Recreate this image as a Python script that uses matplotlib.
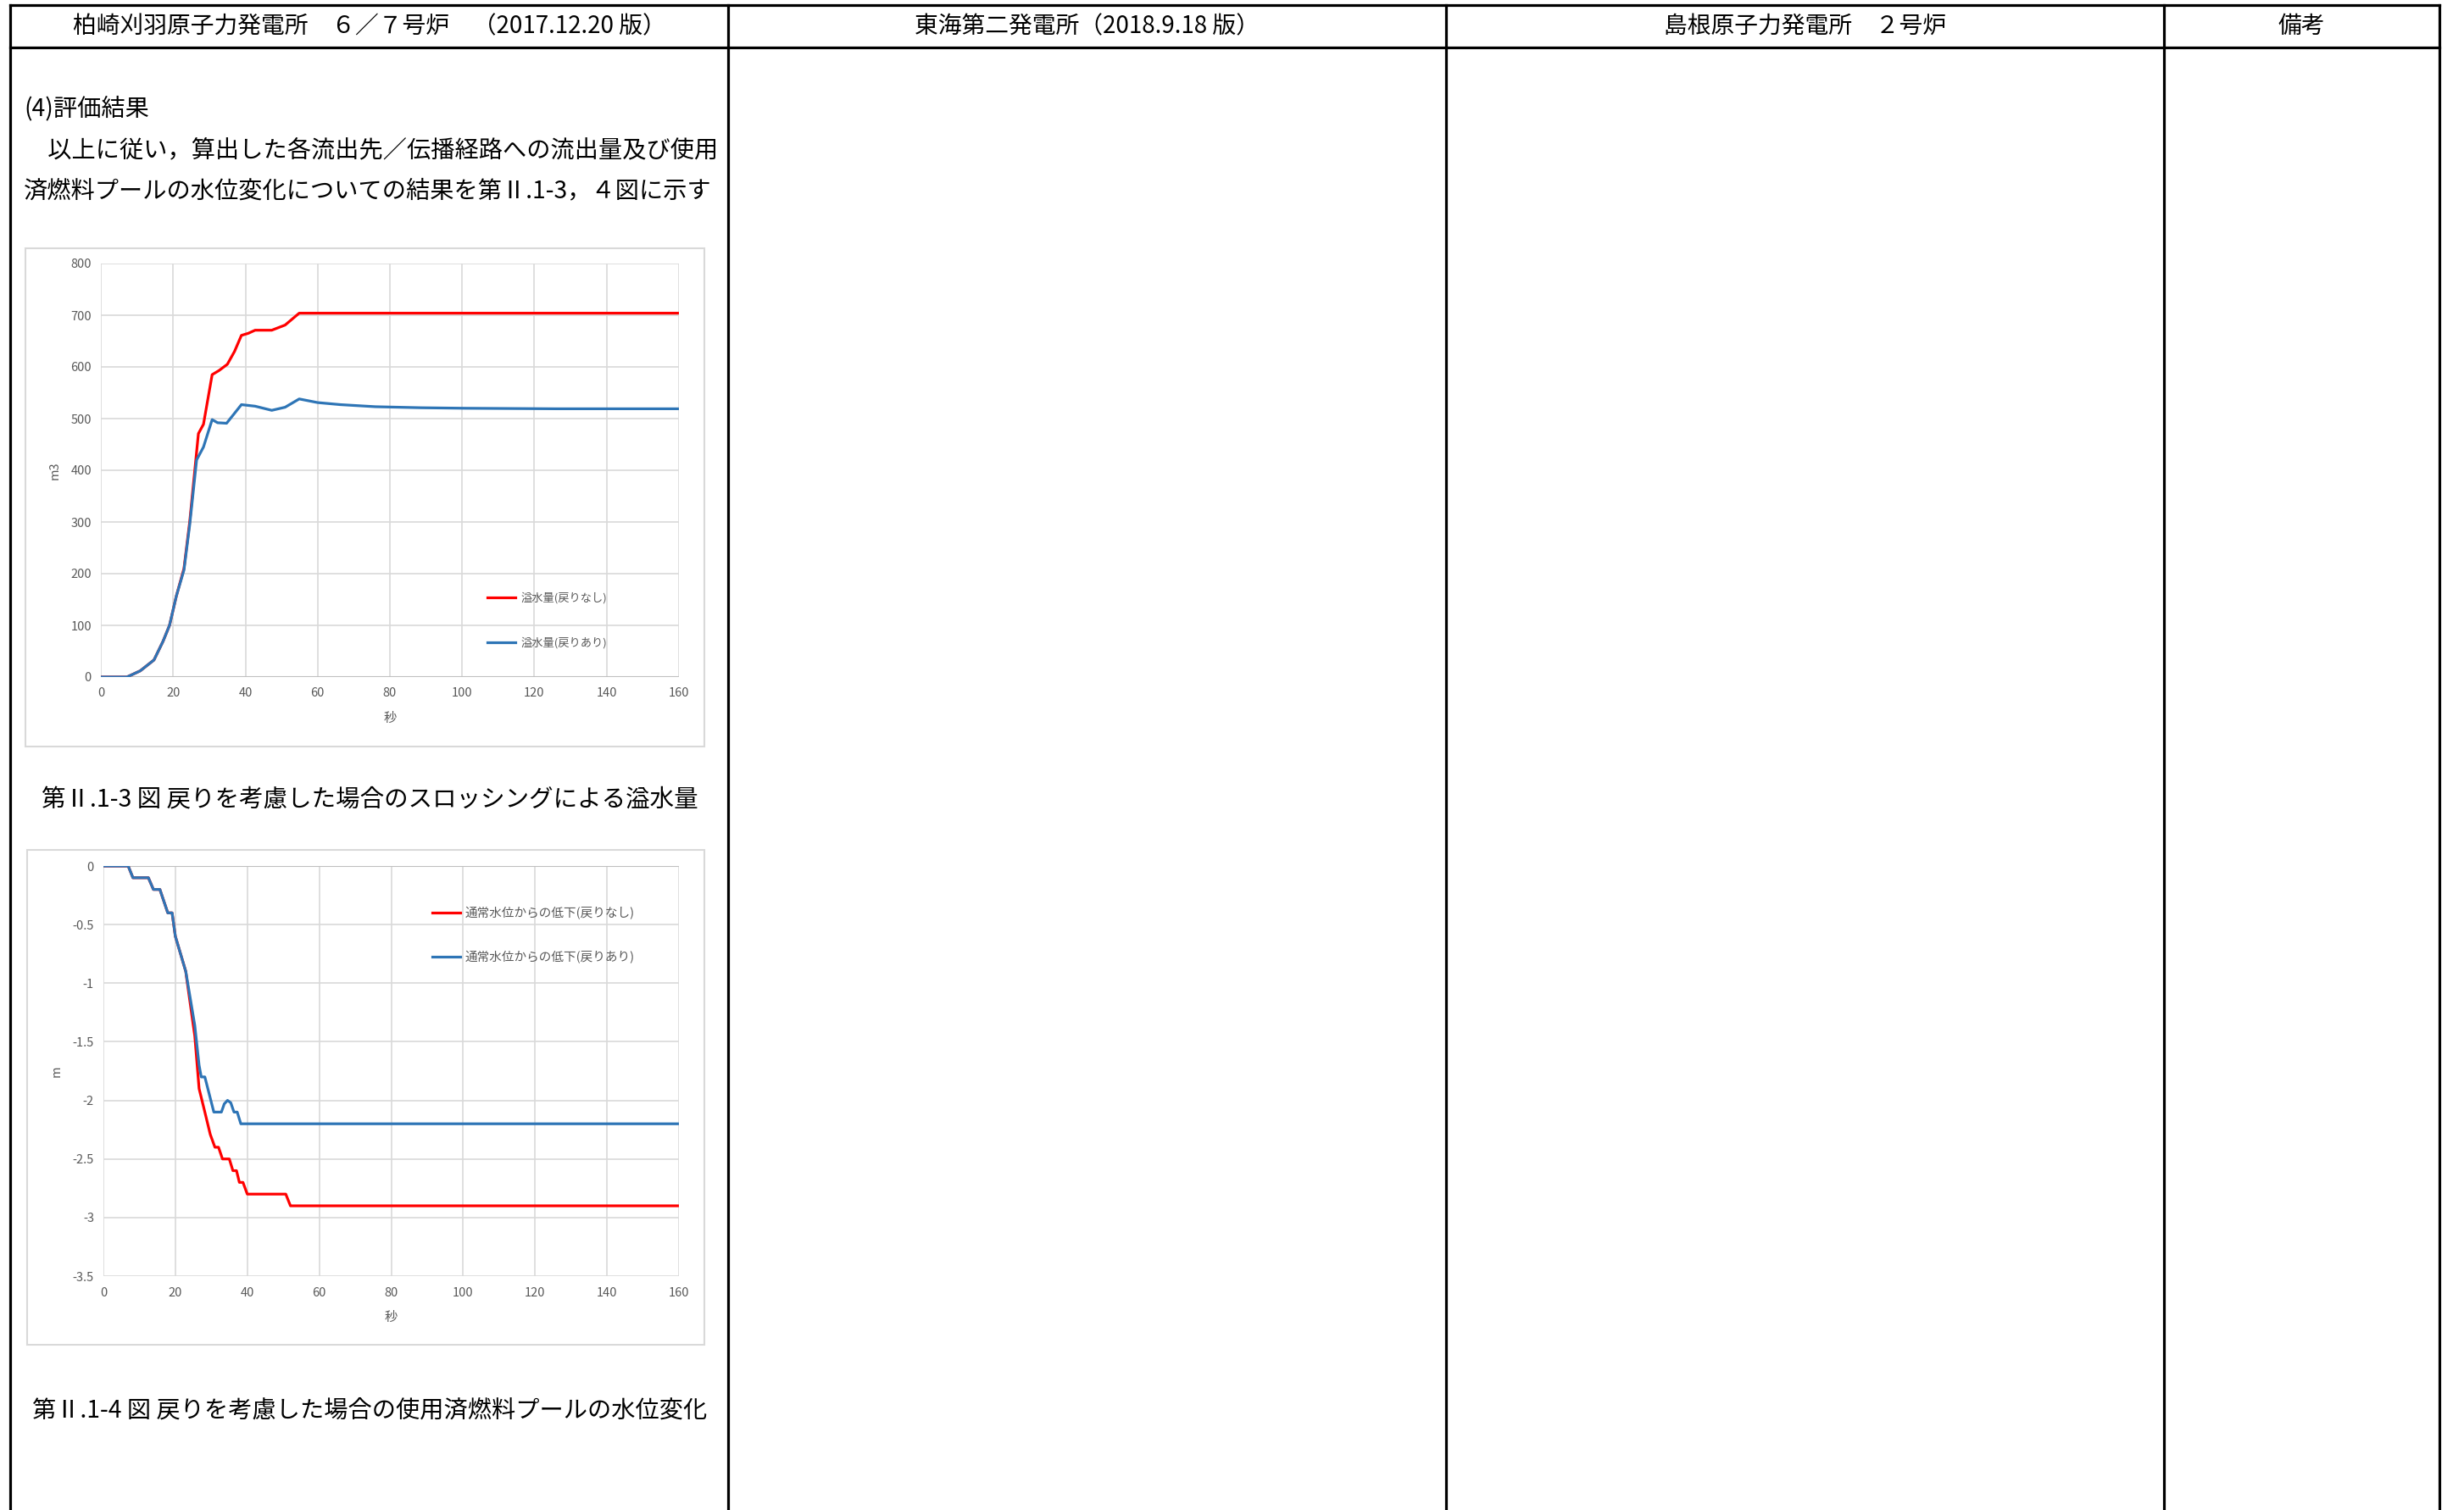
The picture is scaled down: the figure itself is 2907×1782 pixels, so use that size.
import matplotlib
matplotlib.use('Agg')
import matplotlib.pyplot as plt
from matplotlib.patches import Rectangle
from matplotlib.lines import Line2D

plt.rcParams['font.family'] = ['Noto Sans CJK JP', 'DejaVu Sans']

# ---- data ----
headers = ['柏崎刈羽原子力発電所　６／７号炉　（2017.12.20 版）',
           '東海第二発電所（2018.9.18 版）',
           '島根原子力発電所　２号炉',
           '備考']

# fig II.1-3 : overflow volume (m3)
t_ovf_red = [0, 7.2, 10.9, 14.7, 17.2, 19, 20.9, 23, 24.6, 27, 28.4, 30.8, 32.7, 35, 37,
             38.9, 40.8, 42.7, 47.3, 51, 54.9, 160]
ovf_red = [0, 0, 12, 33, 69, 100, 157, 210, 301, 471, 489, 585, 593, 605, 630,
           661, 665, 671, 671, 681, 704, 704]
t_ovf_blue = [0, 7.2, 10.9, 14.7, 17.2, 19, 20.9, 23, 24.6, 26.5, 28.4, 30.8, 32.3, 34.8,
              38.9, 42.7, 47.3, 51, 54.9, 60, 66.3, 76, 88.7, 101, 126, 160]
ovf_blue = [0, 0, 12, 33, 69, 100, 157, 207, 295, 420, 445, 498, 492, 491,
            527, 524, 516, 522, 538, 531, 527, 523, 521, 520, 519, 519]
ovf_labels = ['溢水量(戻りなし)', '溢水量(戻りあり)']

# fig II.1-4 : water level drop (m)
t_lvl_blue = [0, 6.9, 8.2, 12.5, 13.9, 15.7, 17.9, 19.1, 20, 22.9, 25.4, 26.6, 27.2, 28.2,
              30.7, 32.8, 33.6, 34.5, 35.4, 36.3, 37.2, 38.2, 160]
lvl_blue = [0, 0, -0.1, -0.1, -0.2, -0.2, -0.4, -0.4, -0.6, -0.9, -1.36, -1.7, -1.8, -1.8,
            -2.1, -2.1, -2.03, -2.0, -2.02, -2.1, -2.1, -2.2, -2.2]
t_lvl_red = [0, 6.9, 8.2, 12.5, 13.9, 15.7, 17.9, 19.1, 20, 22.9, 23.2, 25.4, 26.6, 28.2,
             29.7, 31, 32, 33.1, 35, 36, 37, 37.8, 38.8, 40, 50.7, 52, 160]
lvl_red = [0, 0, -0.1, -0.1, -0.2, -0.2, -0.4, -0.4, -0.6, -0.9, -0.97, -1.45, -1.9, -2.1,
           -2.29, -2.4, -2.4, -2.5, -2.5, -2.6, -2.6, -2.7, -2.7, -2.8, -2.8, -2.9, -2.9]
lvl_labels = ['通常水位からの低下(戻りなし)', '通常水位からの低下(戻りあり)']

W, H = 2907, 1782
fig = plt.figure(figsize=(W / 100, H / 100), dpi=100)

def fx(px):
    return px / W

def fy(py):
    return 1 - py / H

# ---- table frame ----
col_x = [12, 859, 1706, 2553, 2878]
for x in col_x:
    fig.add_artist(Line2D([fx(x), fx(x)], [fy(6), 0], color='black', lw=2.3))
for y in [6, 56]:
    fig.add_artist(Line2D([fx(col_x[0]), fx(col_x[-1])], [fy(y), fy(y)], color='black', lw=2.3))
for i, h in enumerate(headers):
    fig.text(fx((col_x[i] + col_x[i + 1]) / 2), fy(31), h, ha='center', va='center', fontsize=20)

# ---- body text ----
fs = 20.3
fig.text(fx(28), fy(128), '(4)評価結果', ha='left', va='center', fontsize=fs)
fig.text(fx(28), fy(177), '　以上に従い，算出した各流出先／伝播経路への流出量及び使用',
         ha='left', va='center', fontsize=fs)
fig.text(fx(28), fy(225), '済燃料プールの水位変化についての結果を第Ⅱ.1-3，４図に示す',
         ha='left', va='center', fontsize=fs)
fig.text(fx(436), fy(944), '第Ⅱ.1-3 図 戻りを考慮した場合のスロッシングによる溢水量',
         ha='center', va='center', fontsize=fs + 0.2)
fig.text(fx(436), fy(1665), '第Ⅱ.1-4 図 戻りを考慮した場合の使用済燃料プールの水位変化',
         ha='center', va='center', fontsize=fs)

# ---- chart frames ----
for (x0, y0, x1, y1) in [(30, 293, 831, 881), (32, 1003, 831, 1587)]:
    fig.add_artist(Rectangle((fx(x0), fy(y1)), fx(x1 - x0), (y1 - y0) / H,
                             fill=False, edgecolor='#d9d9d9', lw=1.5))

tick_col = '#595959'
red = '#ff0000'
blue = '#2e75b6'

def style(ax, ph):
    ax.set_facecolor('white')
    for s in ax.spines.values():
        s.set_visible(False)
    ax.grid(True, color='#d9d9d9', lw=1.2)
    ax.set_axisbelow(True)
    ax.tick_params(length=0, labelsize=10.5, labelcolor=tick_col)
    ax.tick_params(axis='x', pad=9)
    ax.tick_params(axis='y', pad=8)
    ax.set_xlim(0, 160)
    ax.set_xticks(range(0, 161, 20))
    ax.set_xlabel('秒', fontsize=11, color=tick_col, va='center')
    ax.xaxis.set_label_coords(0.5, -48 / ph)

# chart 1
ax1 = fig.add_axes([fx(119), fy(799), fx(682), 488 / H])
style(ax1, 488)
ax1.set_ylim(0, 800)
ax1.set_yticks(range(0, 801, 100))
ax1.axhline(0, color='#bfbfbf', lw=1.5)
ax1.plot(t_ovf_red, ovf_red, color=red, lw=2.3, label=ovf_labels[0])
ax1.plot(t_ovf_blue, ovf_blue, color=blue, lw=2.3, label=ovf_labels[1])
ax1.set_ylabel('m3', fontsize=10.5, color=tick_col, va='center')
ax1.yaxis.set_label_coords(-54 / 682, 0.5)
ax1.legend(loc='upper left', bbox_to_anchor=(0.669, 0.205), frameon=False, fontsize=9.5,
           borderpad=0, borderaxespad=0, handlelength=2.5, handletextpad=0.45,
           labelspacing=2.95, labelcolor=tick_col)

# chart 2
ax2 = fig.add_axes([fx(122), fy(1506), fx(679), 484 / H])
style(ax2, 484)
ax2.set_ylim(-3.5, 0)
ax2.set_yticks([-3.5, -3, -2.5, -2, -1.5, -1, -0.5, 0])
ax2.set_yticklabels(['-3.5', '-3', '-2.5', '-2', '-1.5', '-1', '-0.5', '0'])
ax2.axhline(0, color='#bfbfbf', lw=1.5)
ax2.plot(t_lvl_red, lvl_red, color=red, lw=2.3, label=lvl_labels[0])
ax2.plot(t_lvl_blue, lvl_blue, color=blue, lw=2.3, label=lvl_labels[1])
ax2.set_ylabel('m', fontsize=10.5, color=tick_col, va='center')
ax2.yaxis.set_label_coords(-55 / 679, 0.5)
ax2.legend(loc='upper left', bbox_to_anchor=(0.571, 0.901), frameon=False, fontsize=10.5,
           borderpad=0, borderaxespad=0, handlelength=2.25, handletextpad=0.4,
           labelspacing=2.55, labelcolor=tick_col)

fig.savefig('out.png', dpi=100)
